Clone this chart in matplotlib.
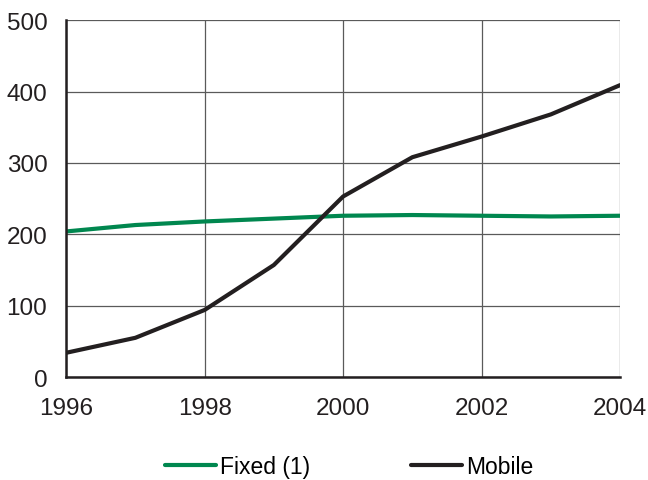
import matplotlib
matplotlib.use("Agg")
import matplotlib.pyplot as plt

plt.rcParams['font.family'] = ['Liberation Sans', 'DejaVu Sans']

years = [1996, 1997, 1998, 1999, 2000, 2001, 2002, 2003, 2004]
fixed = [204, 213, 218, 222, 226, 227, 226, 225, 226]
mobile = [34, 55, 94, 157, 253, 308, 337, 368, 409]
x_ticks = [1996, 1998, 2000, 2002, 2004]
y_ticks = [0, 100, 200, 300, 400, 500]

green = '#00874F'
dark = '#231F20'

fig = plt.figure(figsize=(6.48, 4.81), dpi=100)
ax = fig.add_axes([0.102, 0.214, 0.855, 0.742])

ax.plot(years, fixed, color=green, lw=3.0, label='Fixed (1)', solid_capstyle='round')
ax.plot(years, mobile, color=dark, lw=3.0, label='Mobile', solid_capstyle='round')

ax.set_xlim(1996, 2004)
ax.set_ylim(0, 500)
ax.set_xticks(x_ticks)
ax.set_yticks(y_ticks)
ax.grid(True, color='#5a5a5a', lw=0.9)
ax.set_axisbelow(True)
for s in ['top', 'right']:
    ax.spines[s].set_visible(False)
for s in ['left', 'bottom']:
    ax.spines[s].set_color(dark)
    ax.spines[s].set_linewidth(1.8)
ax.tick_params(length=0, labelsize=17.5, colors='#231F20')
ax.tick_params(axis='x', pad=14.5)
ax.tick_params(axis='y', pad=13.5)

fig.legend(loc='center', bbox_to_anchor=(0.539, 0.029), ncol=2, frameon=False,
           fontsize=16.5, handlelength=2.2, handletextpad=0.2, columnspacing=4.4)

fig.savefig('out.png', dpi=100)
